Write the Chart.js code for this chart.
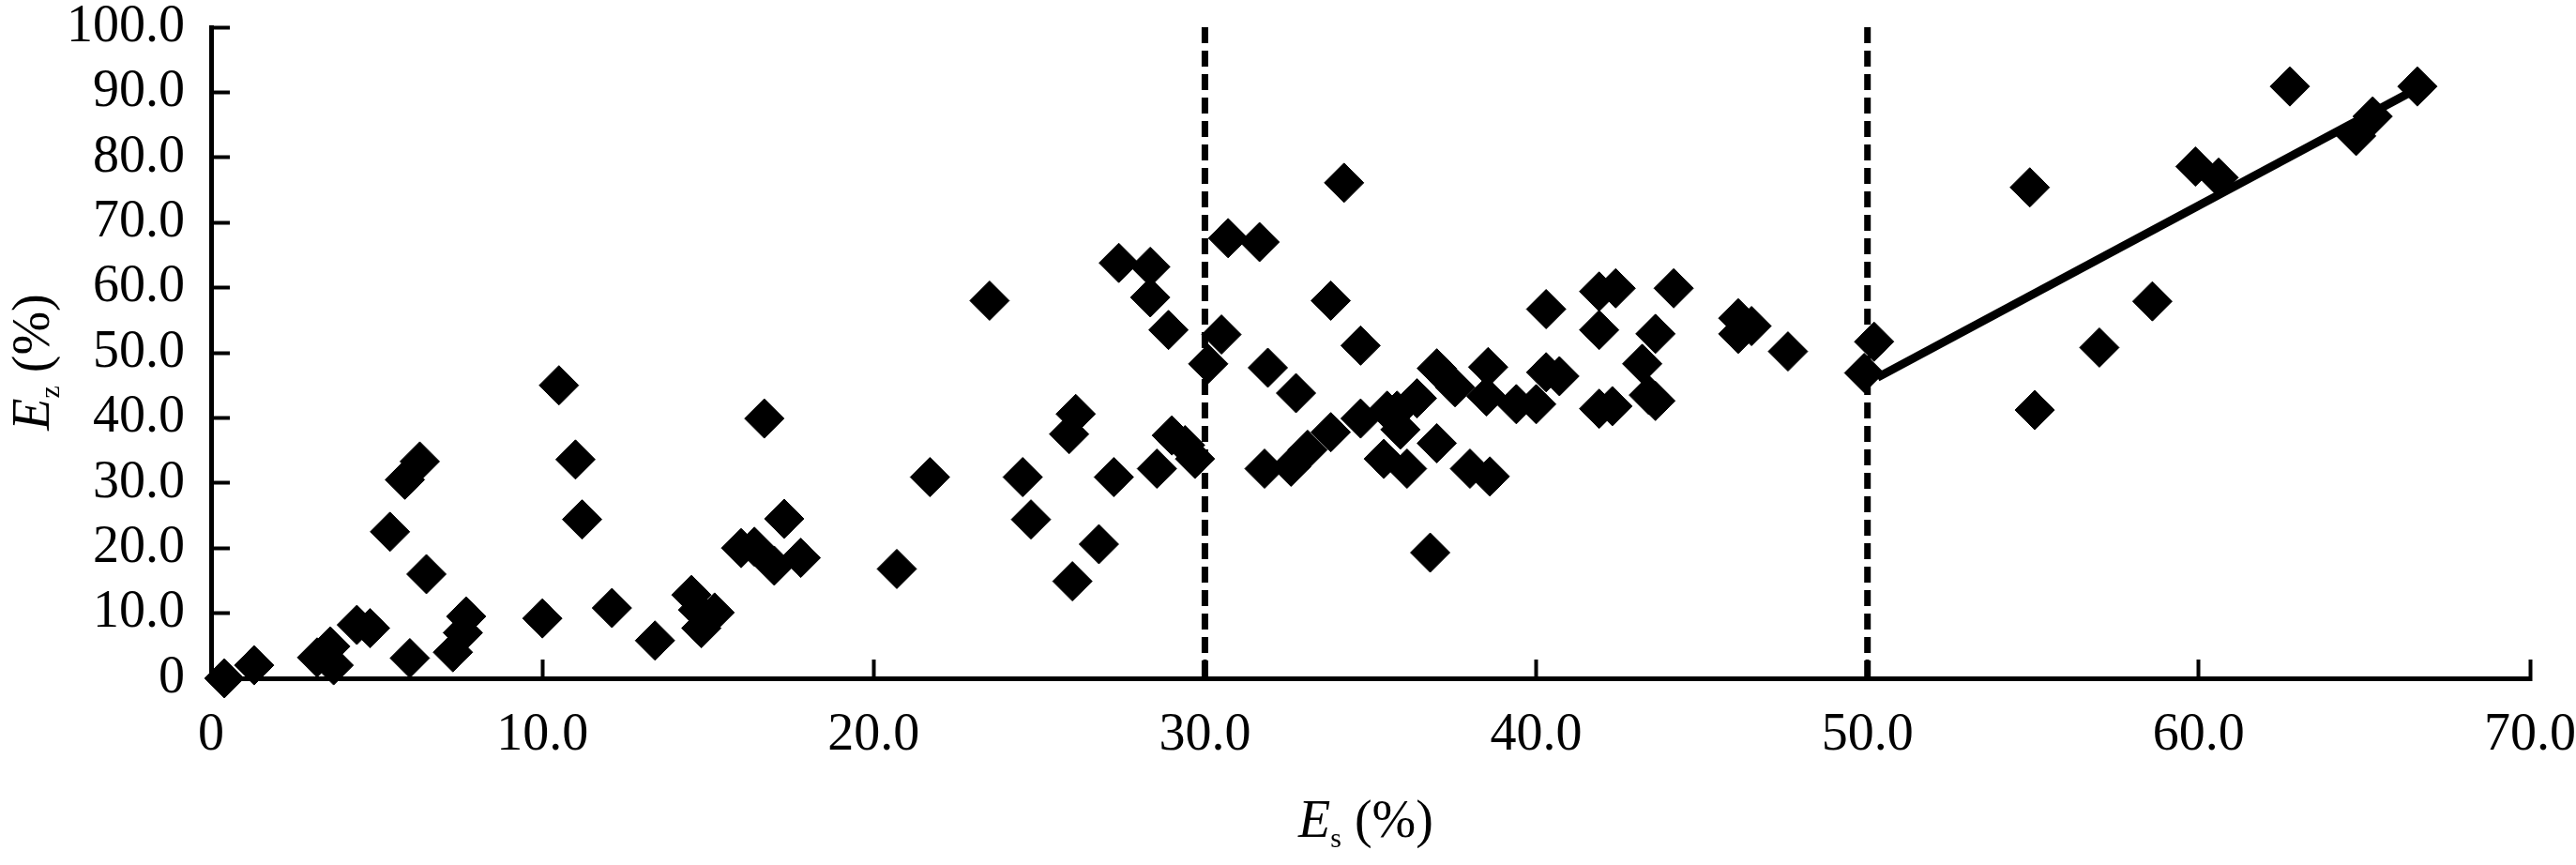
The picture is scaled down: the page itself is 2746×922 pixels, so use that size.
<!DOCTYPE html>
<html>
<head>
<meta charset="utf-8">
<script src="https://cdn.jsdelivr.net/npm/chart.js@4.4.1/dist/chart.umd.min.js"></script>
<style>
  html, body { margin: 0; padding: 0; background: #fff; }
  canvas { display: block; }
</style>
</head>
<body>
<canvas id="esEzChart" width="2746" height="922"></canvas>
<script>
// E_s / E_z pairs
const esValues = [
  0.4, 1.3, 3.2, 3.6, 3.7, 4.4, 4.8, 5.4, 5.85, 6.0, 6.3, 6.5, 7.3, 7.6, 7.7,
  10.0, 10.5, 11.0, 11.2, 12.1, 13.4, 14.5, 14.7, 14.8, 15.2, 16.0, 16.4, 16.7, 17.0, 17.3, 17.8,
  20.7, 21.7, 23.5, 24.5, 24.75, 25.9, 26.0, 26.1, 26.8, 27.25, 27.4, 28.35, 28.35, 28.55, 28.9, 29.0, 29.4, 29.7,
  30.1, 30.5, 30.7, 31.65, 31.8, 31.9, 32.6, 32.75, 33.1, 33.8, 33.8, 34.2, 34.7, 34.7, 35.4, 35.5, 35.8, 35.9,
  36.1, 36.4, 36.8, 37.0, 37.0, 37.55, 38.0, 38.5, 38.55, 38.6, 39.4,
  40.0, 40.3, 40.3, 40.7, 41.9, 41.9, 41.9, 42.3, 42.4, 43.2, 43.4, 43.6, 43.6, 44.15, 46.1, 46.1, 46.5, 47.6,
  49.9, 50.2, 54.9, 55.05, 57.0, 58.6, 59.9, 60.6, 62.75, 64.75, 65.25, 66.6
];
const ezValues = [
  0.0, 2.0, 3.2, 4.9, 2.0, 8.2, 7.7, 22.5, 30.5, 3.1, 33.3, 16.0, 4.0, 7.0, 9.5,
  9.2, 45.0, 33.6, 24.4, 10.8, 5.8, 12.8, 10.5, 7.7, 10.1, 20.0, 20.2, 39.9, 17.3, 24.5, 18.5,
  16.8, 30.9, 58.0, 30.9, 24.4, 37.5, 14.9, 40.6, 20.6, 30.9, 63.8, 63.2, 58.5, 32.2, 53.5, 37.3, 35.8, 33.7,
  48.3, 52.8, 67.6, 67.0, 32.2, 47.7, 32.5, 43.8, 35.1, 37.8, 58.0, 76.1, 39.9, 51.1, 33.7, 41.1, 41.1, 38.2,
  32.2, 43.0, 19.3, 36.1, 47.6, 44.7, 32.2, 43.3, 47.8, 31.0, 42.1,
  42.1, 47.0, 56.7, 46.4, 59.4, 53.5, 41.4, 41.8, 59.9, 48.3, 43.5, 52.9, 42.6, 59.9, 55.3, 52.9, 54.1, 50.2,
  46.9, 51.7, 75.4, 41.2, 50.8, 57.9, 78.6, 76.9, 90.9, 83.3, 86.3, 90.9
];

// dashed dividers and fitted line for E_s > 50
const dividerEs = [30, 50];
const fitEs = [50.3, 66.5];
const fitEz = [46.2, 90.3];

const xTickValues = [0, 10, 20, 30, 40, 50, 60, 70];
const xTickLabels = ['0', '10.0', '20.0', '30.0', '40.0', '50.0', '60.0', '70.0'];
const yTickValues = [0, 10, 20, 30, 40, 50, 60, 70, 80, 90, 100];
const yTickLabels = ['0', '10.0', '20.0', '30.0', '40.0', '50.0', '60.0', '70.0', '80.0', '90.0', '100.0'];

const FONT = '"Liberation Serif", "Times New Roman", serif';

function drawTitle(ctx, letter, sub, rest) {
  // draws "letter_sub rest" centred on (0, 0) with baseline at y = 0
  ctx.font = 'italic 56px ' + FONT;
  const w1 = ctx.measureText(letter).width;
  ctx.font = '30px ' + FONT;
  const w2 = ctx.measureText(sub).width;
  ctx.font = '56px ' + FONT;
  const w3 = ctx.measureText(rest).width;
  let x = -(w1 + w2 + w3) / 2;
  ctx.textBaseline = 'alphabetic';
  ctx.textAlign = 'left';
  ctx.fillStyle = '#000';
  ctx.font = 'italic 56px ' + FONT;
  ctx.fillText(letter, x, 0);
  x += w1;
  ctx.font = '30px ' + FONT;
  ctx.fillText(sub, x, 11);
  x += w2;
  ctx.font = '56px ' + FONT;
  ctx.fillText(rest, x, 0);
}

const axisTitles = {
  id: 'axisTitles',
  afterDraw(chart) {
    const { ctx, chartArea } = chart;
    ctx.save();
    ctx.translate((chartArea.left + chartArea.right) / 2 - 5, chartArea.bottom + 169);
    drawTitle(ctx, 'E', 's', ' (%)');
    ctx.restore();

    ctx.save();
    ctx.translate(52, 386);
    ctx.rotate(-Math.PI / 2);
    drawTitle(ctx, 'E', 'z', ' (%)');
    ctx.restore();
  }
};

// keep the end labels from pushing the plot area inwards
function noEdgePadding(s) {
  s.paddingTop = 0;
  s.paddingBottom = 0;
  s.paddingLeft = 0;
  s.paddingRight = 0;
}

const points = esValues.map((x, i) => ({ x: x, y: ezValues[i] }));

new Chart(document.getElementById('esEzChart'), {
  type: 'scatter',
  data: {
    datasets: [
      {
        label: 'samples',
        data: points,
        pointStyle: 'rectRot',
        pointRadius: 21,
        pointBackgroundColor: '#000',
        pointBorderColor: '#000',
        pointBorderWidth: 1,
        clip: false
      },
      {
        type: 'line',
        label: 'fit',
        data: fitEs.map((x, i) => ({ x: x, y: fitEz[i] })),
        borderColor: '#000',
        borderWidth: 9,
        pointRadius: 0,
        fill: false
      },
      ...dividerEs.map(x => ({
        type: 'line',
        label: 'divider ' + x,
        data: [{ x: x, y: 100 }, { x: x, y: 0 }],
        borderColor: '#000',
        borderWidth: 7,
        borderDash: [17, 8],
        pointRadius: 0,
        fill: false
      }))
    ]
  },
  options: {
    responsive: false,
    animation: false,
    devicePixelRatio: 1,
    layout: { padding: { top: 29, right: 49, bottom: 0, left: 0 } },
    plugins: {
      legend: { display: false },
      tooltip: { enabled: false }
    },
    scales: {
      x: {
        type: 'linear',
        min: 0,
        max: 70,
        afterBuildTicks: s => { s.ticks = xTickValues.map(v => ({ value: v })); },
        afterFit: s => { s.height = 199; noEdgePadding(s); },
        border: { display: true, color: '#000', width: 5 },
        grid: { drawOnChartArea: false, drawTicks: true, tickLength: -20, tickWidth: 4, color: '#000' },
        ticks: {
          color: '#000',
          font: { family: FONT, size: 56 },
          padding: 48,
          maxRotation: 0,
          autoSkip: false,
          callback: (v, i) => xTickLabels[i]
        }
      },
      y: {
        type: 'linear',
        min: 0,
        max: 100,
        afterBuildTicks: s => { s.ticks = yTickValues.map(v => ({ value: v })); },
        afterFit: s => { s.width = 225; noEdgePadding(s); },
        border: { display: true, color: '#000', width: 5 },
        grid: { drawOnChartArea: false, drawTicks: true, tickLength: -20, tickWidth: 4, color: '#000' },
        ticks: {
          color: '#000',
          font: { family: FONT, size: 56 },
          padding: 48,
          autoSkip: false,
          callback: (v, i) => yTickLabels[i]
        }
      }
    }
  },
  plugins: [axisTitles]
});
</script>
</body>
</html>
